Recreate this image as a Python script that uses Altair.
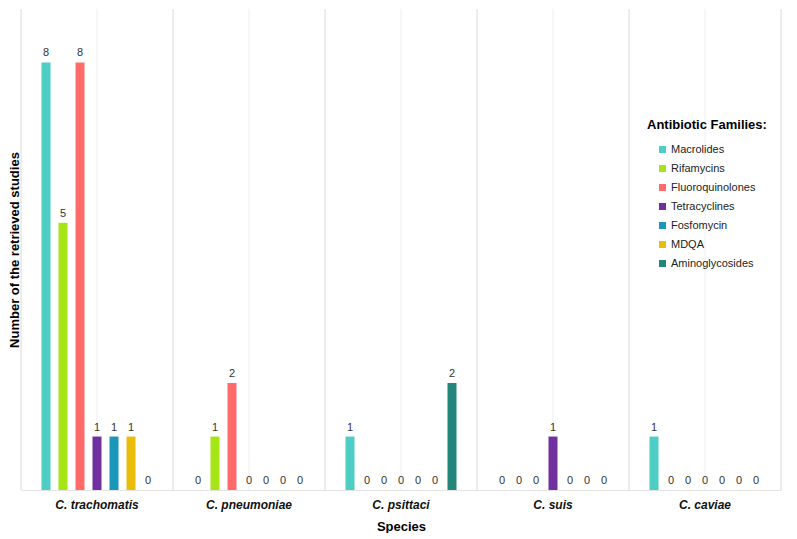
import altair as alt
import pandas as pd

species = ["C. trachomatis", "C. pneumoniae", "C. psittaci", "C. suis", "C. caviae"]
families = ["Macrolides", "Rifamycins", "Fluoroquinolones", "Tetracyclines",
            "Fosfomycin", "MDQA", "Aminoglycosides"]
colors = ["#4ECDC4", "#A6E515", "#FF6B6B", "#7030A0", "#1A96B8", "#EBBD0B", "#24857A"]

macrolides = [8, 0, 1, 0, 1]
rifamycins = [5, 1, 0, 0, 0]
fluoroquinolones = [8, 2, 0, 0, 0]
tetracyclines = [1, 0, 0, 1, 0]
fosfomycin = [1, 0, 0, 0, 0]
mdqa = [1, 0, 0, 0, 0]
aminoglycosides = [0, 0, 2, 0, 0]

series = [macrolides, rifamycins, fluoroquinolones, tetracyclines,
          fosfomycin, mdqa, aminoglycosides]
rows = []
for fam, vals in zip(families, series):
    for sp, v in zip(species, vals):
        rows.append({"Species": sp, "Family": fam, "Count": v})
df = pd.DataFrame(rows)

FONT = "Liberation Sans"

xscale = alt.Scale(paddingInner=0, paddingOuter=0)
x_axis = alt.Axis(title="Species", labelFontStyle="italic", labelFontWeight="bold",
                  labelFontSize=12, labelColor="#111", labelPadding=9, labelAlign="center",
                  labelBaseline="top", bandPosition=0.5,
                  ticks=False, grid=False, domainColor="#e3e3e3",
                  titleFontSize=13, titleFontWeight="bold", titleColor="#000",
                  titlePadding=10, labelAngle=0)
x_enc = alt.X("Species:N", sort=species, scale=xscale, axis=x_axis)
xoff = alt.XOffset("Family:N", sort=families,
                   scale=alt.Scale(range=[8, 144], paddingInner=0.47, paddingOuter=0.735))
y_enc = alt.Y("Count:Q", scale=alt.Scale(domain=[0, 9], nice=False),
              axis=alt.Axis(title="Number of the retrieved studies", labels=False, ticks=False,
                            domain=False, grid=False, titleFontSize=13, titleFontWeight="bold",
                            titleColor="#000", titlePadding=0))

base = alt.Chart(df)

center_rules = base.mark_rule(color="#f6f6f6", strokeWidth=1).encode(
    x=alt.X("Species:N", sort=species, bandPosition=0.5, axis=x_axis))
start_rules = base.mark_rule(color="#ececec", strokeWidth=1).encode(
    x=alt.X("Species:N", sort=species, bandPosition=0))
end_rules = base.mark_rule(color="#ececec", strokeWidth=1).encode(
    x=alt.X("Species:N", sort=species, bandPosition=1))

bars = base.mark_bar().encode(
    x=x_enc, xOffset=xoff, y=y_enc,
    color=alt.Color("Family:N", sort=families,
                    scale=alt.Scale(domain=families, range=colors),
                    legend=alt.Legend(title="Antibiotic Families:", orient="none",
                                      legendX=626, legendY=110,
                                      titleFontSize=13, titleFontWeight="bold", titleColor="#000",
                                      titlePadding=12, labelFontSize=11, labelColor="#222",
                                      symbolType="square", symbolSize=49, symbolStrokeWidth=0,
                                      symbolOffset=10, labelOffset=3, rowPadding=7,
                                      padding=0)),
)
labels = base.mark_text(baseline="bottom", dy=-4, fontSize=11, fill="#333", font=FONT).encode(
    x=x_enc, xOffset=xoff, y=y_enc, text="Count:Q")

chart = alt.layer(center_rules, start_rules, end_rules, bars, labels).properties(
    width=760, height=481,
    padding={"left": 0, "top": 0, "right": 5, "bottom": 0},
).configure(font=FONT).configure_view(stroke=None)

chart.save("out.html", embed_options={"renderer": "svg", "actions": False})
